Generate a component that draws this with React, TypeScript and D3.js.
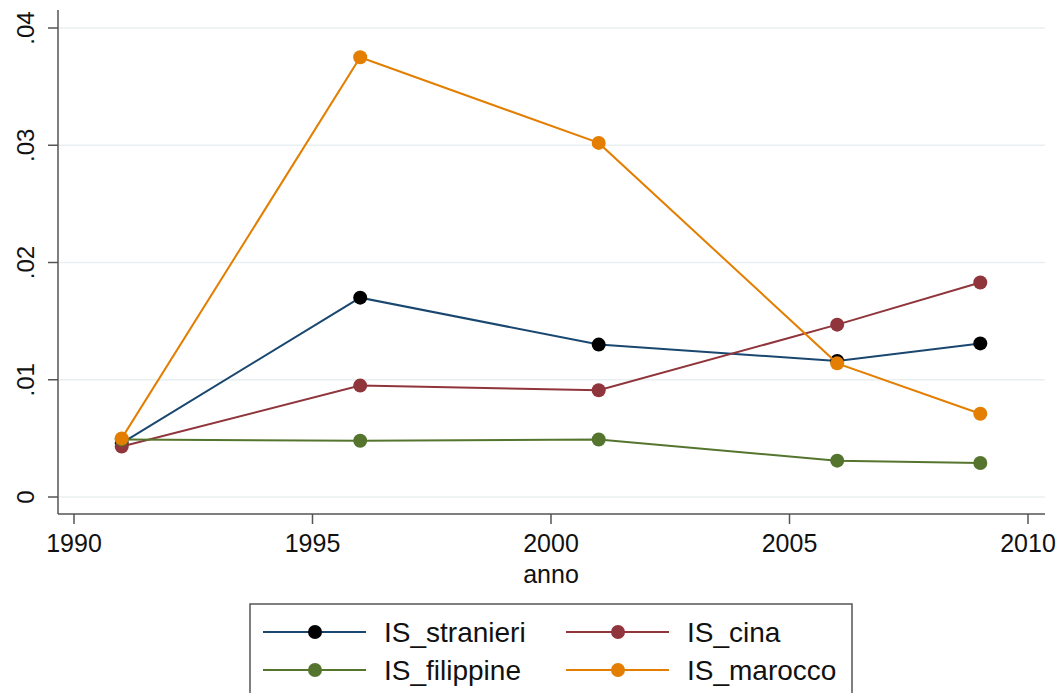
import React from "react";
import * as d3 from "d3";

const years = [1991, 1996, 2001, 2006, 2009];
const stranieri = [0.0046, 0.017, 0.013, 0.0116, 0.0131];
const cina = [0.0043, 0.0095, 0.0091, 0.0147, 0.0183];
const filippine = [0.0049, 0.0048, 0.0049, 0.0031, 0.0029];
const marocco = [0.005, 0.0375, 0.0302, 0.0114, 0.0071];
const yTicks = [0, 0.01, 0.02, 0.03, 0.04];
const yTickLabels = ["0", ".01", ".02", ".03", ".04"];
const xTicks = [1990, 1995, 2000, 2005, 2010];

const series = [
  { name: "IS_stranieri", values: stranieri, line: "#1a476f", marker: "#000000" },
  { name: "IS_cina", values: cina, line: "#90353b", marker: "#90353b" },
  { name: "IS_filippine", values: filippine, line: "#55752f", marker: "#55752f" },
  { name: "IS_marocco", values: marocco, line: "#e37e00", marker: "#e37e00" },
];

const W = 1062;
const H = 693;
const FONT = "'Liberation Sans', Arial, Helvetica, sans-serif";

export default function App() {
  const x = d3.scaleLinear().domain([1990, 2010]).range([74, 1028]);
  const y = d3.scaleLinear().domain([0, 0.04]).range([497, 28]);
  const plotLeft = 58;
  const plotRight = 1045;
  const plotTop = 10;
  const plotBottom = 514;
  const line = d3
    .line<number>()
    .x((_, i) => x(years[i]))
    .y((d) => y(d));

  return (
    <svg
      width={W}
      height={H}
      style={{ position: "absolute", left: 0, top: 0, background: "#fff" }}
      fontFamily={FONT}
    >
      <rect x={0} y={0} width={W} height={H} fill="#ffffff" />
      {/* gridlines */}
      {yTicks.map((t) => (
        <line
          key={"g" + t}
          x1={plotLeft}
          x2={plotRight}
          y1={y(t)}
          y2={y(t)}
          stroke="#e8eff1"
          strokeWidth={1.5}
        />
      ))}
      {/* y axis */}
      <line x1={plotLeft} x2={plotLeft} y1={plotTop} y2={plotBottom} stroke="#555" strokeWidth={1.5} />
      {yTicks.map((t, i) => (
        <g key={"yt" + t}>
          <line x1={plotLeft - 10} x2={plotLeft} y1={y(t)} y2={y(t)} stroke="#555" strokeWidth={1.5} />
          <text
            transform={`translate(${34},${y(t)}) rotate(-90)`}
            textAnchor="middle"
            fontSize={24}
            fill="#111"
          >
            {yTickLabels[i]}
          </text>
        </g>
      ))}
      {/* x axis */}
      <line x1={plotLeft} x2={plotRight} y1={plotBottom} y2={plotBottom} stroke="#555" strokeWidth={1.5} />
      {xTicks.map((t) => (
        <g key={"xt" + t}>
          <line x1={x(t)} x2={x(t)} y1={plotBottom} y2={plotBottom + 10} stroke="#555" strokeWidth={1.5} />
          <text x={x(t)} y={552} textAnchor="middle" fontSize={25} fill="#111">
            {t}
          </text>
        </g>
      ))}
      <text x={551} y={583} textAnchor="middle" fontSize={25} fill="#111">
        anno
      </text>
      {/* series */}
      {series.map((s) => (
        <g key={s.name}>
          <path d={line(s.values) || ""} fill="none" stroke={s.line} strokeWidth={2} />
          {s.values.map((v, i) => (
            <circle key={i} cx={x(years[i])} cy={y(v)} r={7} fill={s.marker} />
          ))}
        </g>
      ))}
      {/* legend */}
      <rect x={250} y={604} width={602} height={100} fill="#fff" stroke="#555" strokeWidth={1.5} />
      {series.map((s, i) => {
        const col = i % 2;
        const row = Math.floor(i / 2);
        const lx = col === 0 ? 263 : 566;
        const ly = row === 0 ? 632 : 670;
        return (
          <g key={"leg" + s.name}>
            <line x1={lx} x2={lx + 103} y1={ly} y2={ly} stroke={s.line} strokeWidth={2} />
            <circle cx={lx + 52} cy={ly} r={7} fill={s.marker} />
            <text x={lx + 121} y={ly + 10} fontSize={28} fill="#111">
              {s.name}
            </text>
          </g>
        );
      })}
    </svg>
  );
}
